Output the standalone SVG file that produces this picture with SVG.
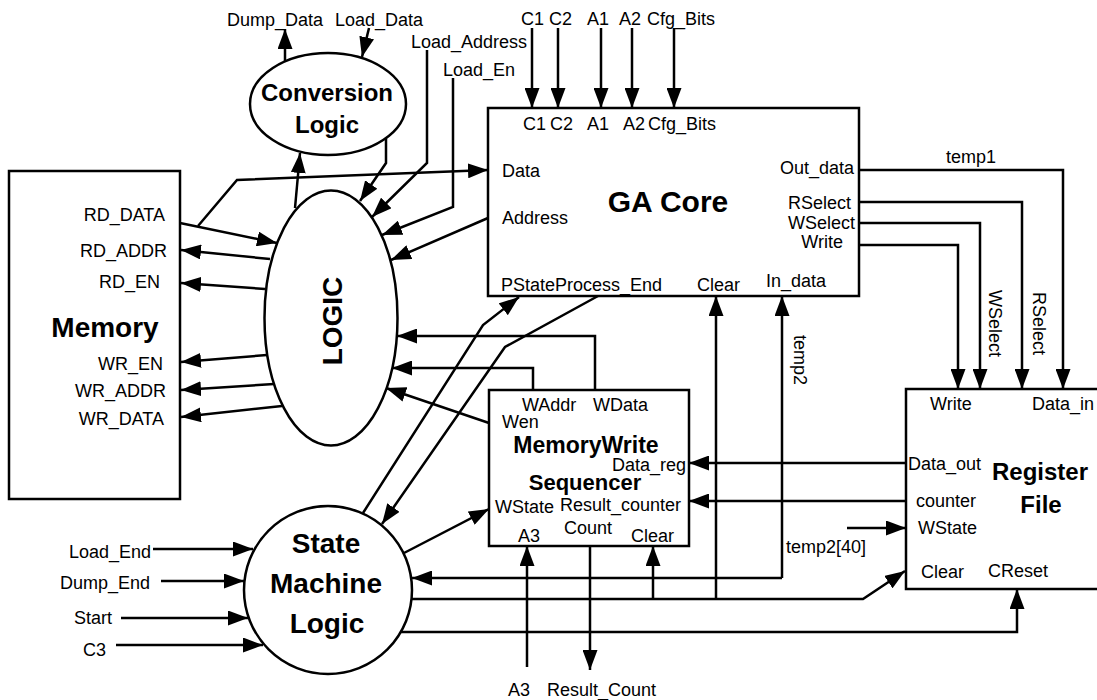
<svg xmlns="http://www.w3.org/2000/svg" width="1097" height="700" viewBox="0 0 1097 700">
<defs>
<marker id="ah" markerUnits="userSpaceOnUse" markerWidth="21" markerHeight="15" refX="20" refY="7.5" orient="auto">
<path d="M0,0 L20,7.5 L0,15 z" fill="#000"/>
</marker>
<style>
.shape{fill:#fff;stroke:#000;stroke-width:2.5}
.ln{fill:none;stroke:#000;stroke-width:2.5;marker-end:url(#ah)}
text{font-family:"Liberation Sans",Arial,sans-serif;fill:#000}
.t{font-size:18px}
.e{font-size:18px;text-anchor:end}
.b{font-weight:bold;text-anchor:middle}
</style>
</defs>
<rect width="1097" height="700" fill="#fff"/>

<g id="connectors">
<path class="ln" d="M285,61 L285,29"/>
<path class="ln" d="M369,28 L362,57"/>
<path class="ln" d="M386,138 L386,163 L360,201"/>
<path class="ln" d="M295,208 L300,153"/>
<path class="ln" d="M427,50 L427,163 L372,217"/>
<path class="ln" d="M453,78 L453,207 L382,235"/>
<path class="ln" d="M488,218 L391,260"/>
<path class="ln" d="M198,226 L237,180 L488,170"/>
<path class="ln" d="M180,223 L277,243"/>
<path class="ln" d="M270,259 L181,250"/>
<path class="ln" d="M265,289 L181,283"/>
<path class="ln" d="M267,355 L181,362"/>
<path class="ln" d="M274,384 L181,390"/>
<path class="ln" d="M282,406 L181,417"/>
<path class="ln" d="M532,28 L532,108"/>
<path class="ln" d="M558,28 L558,108"/>
<path class="ln" d="M601,28 L601,108"/>
<path class="ln" d="M632,28 L632,108"/>
<path class="ln" d="M674,28 L674,108"/>
<path class="ln" d="M859,170 L1063,170 L1063,389"/>
<path class="ln" d="M859,202 L1022,202 L1022,389"/>
<path class="ln" d="M859,223 L980,223 L980,389"/>
<path class="ln" d="M859,245 L958,245 L958,389"/>
<path class="ln" d="M595,390 L595,336 L397,336"/>
<path class="ln" d="M533,390 L533,368 L392,368"/>
<path class="ln" d="M489,423 L386,388"/>
<path class="ln" d="M363,513 L483,325 L519,297"/>
<path class="ln" d="M598,296 L505,347 L382,524"/>
<path class="ln" d="M404,553 L489,509"/>
<path class="ln" d="M906,463 L689,463"/>
<path class="ln" d="M906,501 L689,501"/>
<path class="ln" d="M847,528 L906,528"/>
<path class="ln" d="M782,578 L412,578"/>
<path class="ln" d="M782,578 L782,296"/>
<path class="ln" d="M411,599 L863,599 L905,571"/>
<path class="ln" d="M653,599 L653,546"/>
<path class="ln" d="M716,599 L716,296"/>
<path class="ln" d="M401,632 L1017,632 L1017,589"/>
<path class="ln" d="M527,667 L527,546"/>
<path class="ln" d="M590,546 L590,670"/>
<path class="ln" d="M153,549 L253,549"/>
<path class="ln" d="M161,581 L244,581"/>
<path class="ln" d="M121,618 L248,618"/>
<path class="ln" d="M116,645 L263,645"/>
</g>

<g id="memory">
<rect class="shape" x="9" y="171" width="171" height="328"/>
<text class="e" x="165" y="221">RD_DATA</text>
<text class="e" x="167" y="257">RD_ADDR</text>
<text class="e" x="160" y="288">RD_EN</text>
<text class="b" x="105" y="337" font-size="28">Memory</text>
<text class="e" x="163" y="370">WR_EN</text>
<text class="e" x="166" y="397">WR_ADDR</text>
<text class="e" x="164" y="425">WR_DATA</text>
</g>

<g id="conversion-logic">
<ellipse class="shape" cx="328" cy="104" rx="78" ry="51"/>
<text class="b" x="327" y="101" font-size="24">Conversion</text>
<text class="b" x="327" y="133" font-size="24">Logic</text>
</g>

<g id="logic">
<ellipse class="shape" cx="331" cy="318" rx="66.5" ry="127.5"/>
<text class="b" font-size="28" transform="translate(342,321) rotate(-90)">LOGIC</text>
</g>

<g id="ga-core">
<rect class="shape" x="488" y="108" width="371" height="188"/>
<text class="t" x="523" y="130">C1</text>
<text class="t" x="550" y="130">C2</text>
<text class="t" x="587" y="130">A1</text>
<text class="t" x="623" y="130">A2</text>
<text class="t" x="648" y="130">Cfg_Bits</text>
<text class="t" x="502" y="177">Data</text>
<text class="t" x="502" y="224">Address</text>
<text class="b" x="668" y="212" font-size="30">GA Core</text>
<text class="e" x="854" y="174">Out_data</text>
<text class="e" x="851" y="209">RSelect</text>
<text class="e" x="855" y="229">WSelect</text>
<text class="e" x="843" y="248">Write</text>
<text class="t" x="501" y="291">PStateProcess_End</text>
<text class="t" x="697" y="291">Clear</text>
<text class="t" x="766" y="287">In_data</text>
</g>

<g id="mem-write-seq">
<rect class="shape" x="489" y="390" width="200" height="156"/>
<text class="t" x="522" y="411">WAddr</text>
<text class="t" x="593" y="411">WData</text>
<text class="t" x="502" y="428" font-size="17">Wen</text>
<text class="b" x="586" y="453" font-size="23">MemoryWrite</text>
<text class="t" x="612" y="471" font-size="16">Data_reg</text>
<text class="b" x="585" y="490" font-size="22">Sequencer</text>
<text class="t" x="560" y="511" font-size="17">Result_counter</text>
<text class="t" x="495" y="513">WState</text>
<text class="t" x="518" y="542">A3</text>
<text class="t" x="564" y="534">Count</text>
<text class="t" x="631" y="542">Clear</text>
</g>

<g id="register-file">
<rect class="shape" x="906" y="389" width="200" height="200"/>
<text class="t" x="930" y="410">Write</text>
<text class="t" x="1032" y="410">Data_in</text>
<text class="t" x="908" y="470">Data_out</text>
<text class="b" x="1040" y="480" font-size="24">Register</text>
<text class="t" x="916" y="507">counter</text>
<text class="b" x="1041" y="513" font-size="24">File</text>
<text class="t" x="918" y="534">WState</text>
<text class="t" x="921" y="578">Clear</text>
<text class="t" x="988" y="577">CReset</text>
</g>

<g id="state-machine">
<circle class="shape" cx="328" cy="590" r="84"/>
<text class="b" x="326" y="553" font-size="28">State</text>
<text class="b" x="326" y="593" font-size="28">Machine</text>
<text class="b" x="327" y="633" font-size="28">Logic</text>
</g>

<g id="labels">
<text class="t" x="227" y="26">Dump_Data</text>
<text class="t" x="335" y="26">Load_Data</text>
<text class="t" x="411" y="48">Load_Address</text>
<text class="t" x="443" y="76">Load_En</text>
<text class="t" x="521" y="25">C1</text>
<text class="t" x="549" y="25">C2</text>
<text class="t" x="587" y="25">A1</text>
<text class="t" x="619" y="25">A2</text>
<text class="t" x="647" y="25">Cfg_Bits</text>
<text class="t" x="946" y="163">temp1</text>
<text class="t" transform="translate(989,290) rotate(90)">WSelect</text>
<text class="t" transform="translate(1033,292) rotate(90)">RSelect</text>
<text class="t" transform="translate(794,335) rotate(90)">temp2</text>
<text class="t" x="786" y="553">temp2[40]</text>
<text class="t" x="69" y="558">Load_End</text>
<text class="t" x="60" y="589">Dump_End</text>
<text class="t" x="74" y="624">Start</text>
<text class="t" x="83" y="656">C3</text>
<text class="t" x="508" y="696">A3</text>
<text class="t" x="547" y="696">Result_Count</text>
</g>
</svg>
